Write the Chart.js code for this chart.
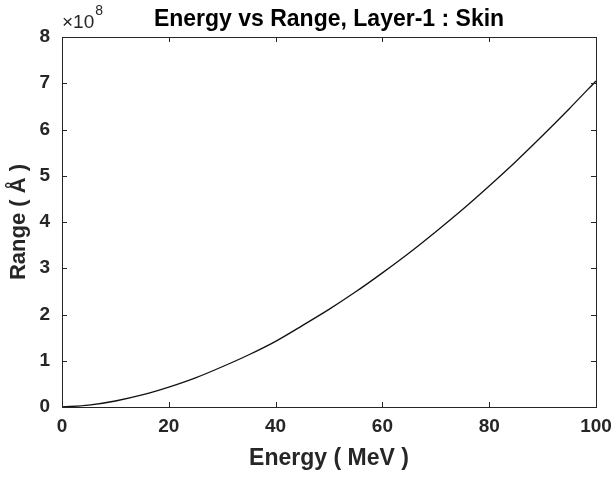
<!DOCTYPE html>
<html>
<head>
<meta charset="utf-8">
<script src="https://cdn.jsdelivr.net/npm/chart.js@4.4.1/dist/chart.umd.min.js"></script>
<style>
  html, body { margin: 0; padding: 0; background: #fff; }
  #wrap { width: 611px; height: 477px; }
</style>
</head>
<body>
<div id="wrap"><canvas id="myChart" width="611" height="477"></canvas></div>
<script>
// energy in MeV, range in units of 1e8 Angstrom
const energy = [0, 5, 10, 15, 20, 25, 30, 35, 40, 45, 50, 55, 60, 65, 70, 75, 80, 85, 90, 95, 100];
const range = [0, 0.04, 0.13, 0.26, 0.43, 0.63, 0.87, 1.13, 1.42, 1.76, 2.11, 2.49, 2.90, 3.33, 3.79, 4.27, 4.78, 5.31, 5.87, 6.45, 7.05];
const xTicks = [0, 20, 40, 60, 80, 100];
const yTicks = [0, 1, 2, 3, 4, 5, 6, 7, 8];
const titleText = 'Energy vs Range, Layer-1 : Skin';
const xLabel = 'Energy ( MeV )';
const yLabel = 'Range ( Å )';

const ink = '#262626';
const fontFam = '"Liberation Sans", Arial, Helvetica, sans-serif';

const points = energy.map((e, i) => ({x: e, y: range[i]}));

// box, inward ticks, title, exponent
const matlabAxes = {
    id: 'matlabAxes',
    afterDatasetsDraw(chart) {
        const ctx = chart.ctx;
        const a = chart.chartArea;
        const xs = chart.scales.x;
        const ys = chart.scales.y;
        ctx.save();
        ctx.strokeStyle = ink;
        ctx.lineWidth = 1;
        ctx.strokeRect(Math.round(a.left) + 0.5, Math.round(a.top) + 0.5,
            Math.round(a.right - a.left), Math.round(a.bottom - a.top));
        ctx.beginPath();
        xTicks.forEach(v => {
            const px = Math.round(xs.getPixelForValue(v)) + 0.5;
            ctx.moveTo(px, a.bottom); ctx.lineTo(px, a.bottom - 5);
            ctx.moveTo(px, a.top); ctx.lineTo(px, a.top + 5);
        });
        yTicks.forEach(v => {
            const py = Math.round(ys.getPixelForValue(v)) + 0.5;
            ctx.moveTo(a.left, py); ctx.lineTo(a.left + 5, py);
            ctx.moveTo(a.right, py); ctx.lineTo(a.right - 5, py);
        });
        ctx.stroke();

        ctx.fillStyle = '#000';
        ctx.font = 'bold 23px ' + fontFam;
        ctx.textAlign = 'center';
        ctx.textBaseline = 'alphabetic';
        ctx.fillText(titleText, (a.left + a.right) / 2, 26);

        ctx.fillStyle = ink;
        ctx.textAlign = 'left';
        ctx.font = '19px ' + fontFam;
        ctx.fillText('\u00d710', a.left, 28);
        const w = ctx.measureText('\u00d710').width;
        ctx.font = '14px ' + fontFam;
        ctx.fillText('8', a.left + w + 1, 15);
        ctx.restore();
    }
};

const config = {
    type: 'line',
    data: {
        datasets: [{
            label: 'Range',
            data: points,
            borderColor: '#111',
            borderWidth: 1.3,
            pointRadius: 0,
            fill: false,
            tension: 0.3
        }]
    },
    options: {
        responsive: false,
        animation: false,
        layout: {padding: {left: 0, right: 15, top: 37, bottom: 0}},
        plugins: {legend: {display: false}, tooltip: {enabled: false}},
        scales: {
            x: {
                type: 'linear', min: 0, max: 100,
                afterBuildTicks: s => { s.ticks = xTicks.map(v => ({value: v})); },
                afterFit: s => { s.height = 70; s.paddingLeft = 0; s.paddingRight = 0; },
                grid: {display: false, drawTicks: false},
                border: {display: false},
                ticks: {color: ink, padding: 8, maxRotation: 0, font: {family: fontFam, size: 19, weight: 'bold'}},
                title: {display: true, text: xLabel, color: ink, padding: {top: 4, bottom: 5},
                    font: {family: fontFam, size: 23, weight: 'bold'}}
            },
            y: {
                type: 'linear', min: 0, max: 8,
                afterBuildTicks: s => { s.ticks = yTicks.map(v => ({value: v})); },
                afterFit: s => { s.width = 62; },
                grid: {display: false, drawTicks: false},
                border: {display: false},
                ticks: {color: ink, padding: 12, font: {family: fontFam, size: 19, weight: 'bold'}},
                title: {display: true, text: yLabel, color: ink, padding: {top: 6, bottom: 0},
                    font: {family: fontFam, size: 22, weight: 'bold'}}
            }
        }
    },
    plugins: [matlabAxes]
};

new Chart(document.getElementById('myChart').getContext('2d'), config);
</script>
</body>
</html>
